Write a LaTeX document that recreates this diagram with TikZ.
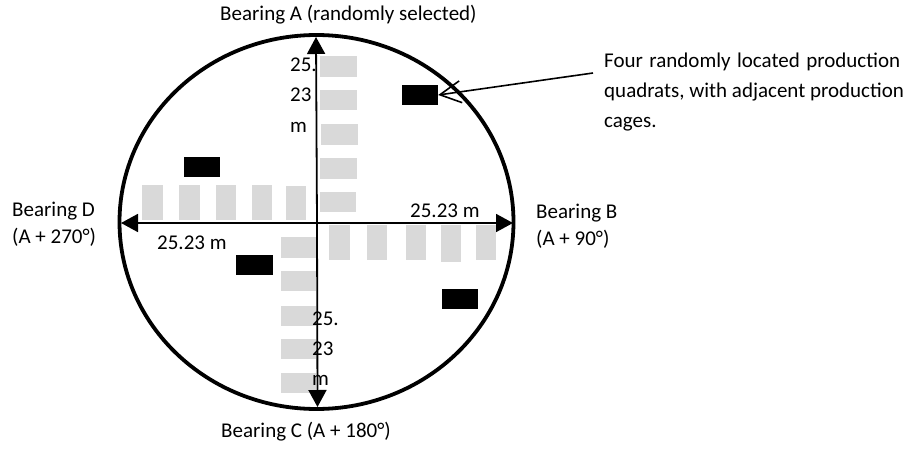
\documentclass[tikz,border=0pt]{standalone}
\usepackage{fontspec}
\setmainfont{Carlito}
\usetikzlibrary{arrows.meta,shapes.geometric}
\definecolor{greyfill}{HTML}{D9D9D9}
\begin{document}
\begin{tikzpicture}[x=1pt,y=-1pt,
  lbl/.style={anchor=base west,inner sep=0pt,font=\fontsize{21}{30}\selectfont},
  grey/.style={fill=greyfill,draw=none},
  cage/.style={fill=black,draw=none,inner sep=0pt,minimum width=36pt,minimum height=20pt},
  axis/.style={line width=1.8pt,-{Triangle[length=17pt,width=18pt]}},
  rim/.style={line width=3.8pt},
  pointer/.style={line width=1.6pt,-{Straight Barb[length=21pt,width=22pt]}}
]
\useasboundingbox (0,0) rectangle (916,452);
\fill[white] (0,0) rectangle (916,452);
% grey production cages along the transects
% top (A)
\fill[grey] (320,56) rectangle (357,77);
\fill[grey] (320,90) rectangle (357,110);
\fill[grey] (321,124) rectangle (358,145);
\fill[grey] (320,158) rectangle (357,179);
\fill[grey] (320,192) rectangle (356,212);
% left (D)
\fill[grey] (142,185) rectangle (163,220);
\fill[grey] (179,185) rectangle (200,220);
\fill[grey] (216,185) rectangle (236,220);
\fill[grey] (252,185) rectangle (272,220);
\fill[grey] (286,186) rectangle (306,220);
% right (B)
\fill[grey] (329,225) rectangle (350,260);
\fill[grey] (367,225) rectangle (387,260);
\fill[grey] (406,225) rectangle (426,260);
\fill[grey] (441,225) rectangle (461,262);
\fill[grey] (476,225) rectangle (496,260);
% bottom (C)
\fill[grey] (281,237) rectangle (316,258);
\fill[grey] (281,271) rectangle (316,291);
\fill[grey] (281,306) rectangle (316,326);
\fill[grey] (281,339) rectangle (316,359);
\fill[grey] (281,373) rectangle (316,393);
% black production quadrats
\node[cage] (q1) at (420,95) {};
\node[cage] (q2) at (202,167) {};
\node[cage,minimum width=37pt] (q3) at (254.5,265) {};
\node[cage] (q4) at (460,299) {};
% circle
\node[draw,rim,ellipse,inner sep=0pt,minimum width=394pt,minimum height=374pt] (plot) at (316.5,222) {};
% axes
\coordinate (O) at (317,223);
\coordinate (tA) at (316,37);
\coordinate (tC) at (317.5,407);
\coordinate (tD) at (121,223);
\coordinate (tB) at (513,223);
\draw[axis] (O) -- (tA);
\draw[axis] (O) -- (tC);
\draw[axis] (O) -- (tD);
\draw[axis] (O) -- (tB);
% labels
\node[lbl] (la) at (220,21) {Bearing A (randomly selected)};
\node[lbl] (lc) at (221,437) {Bearing C (A + 180°)};
\node[lbl] (ld1) at (12,216) {Bearing D};
\node[lbl] (ld2) at (12,243) {(A + 270°)};
\node[lbl] (lb1) at (536,218) {Bearing B};
\node[lbl] (lb2) at (536,245) {(A + 90°)};
\node[lbl] (p1) at (604,67) {\makebox[296pt][s]{Four randomly located production}};
\node[lbl] (p2) at (604,98) {quadrats, with adjacent production};
\node[lbl] (p3) at (604,128) {cages.};
\node[lbl] (dB) at (410,217) {25.23 m};
\node[lbl] (dD) at (157,249) {25.23 m};
\node[lbl] (dA1) at (290,72) {25.};
\node[lbl] (dA2) at (290,102) {23};
\node[lbl] (dA3) at (290,132) {m};
\node[lbl] (dC1) at (312,325) {25.};
\node[lbl] (dC2) at (312,355) {23};
\node[lbl] (dC3) at (312,385) {m};
% pointer
\coordinate (ptr) at (593,73);
\draw[pointer] (ptr) -- (q1.east);
\end{tikzpicture}
\end{document}
